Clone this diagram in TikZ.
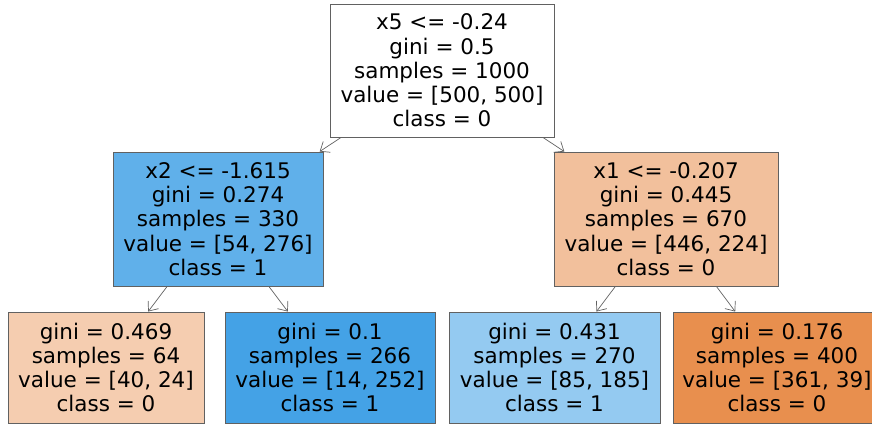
\documentclass[tikz,border=0pt]{standalone}
\usepackage{fontspec}
\setmainfont{DejaVu Sans}
\usetikzlibrary{arrows.meta}
\definecolor{edgegray}{gray}{0.38}
\definecolor{blueA}{RGB}{96,176,234}
\definecolor{orangeA}{RGB}{242,192,156}
\definecolor{orangeB}{RGB}{245,205,176}
\definecolor{blueB}{RGB}{68,162,230}
\definecolor{blueC}{RGB}{148,202,241}
\definecolor{orangeC}{RGB}{232,143,78}
\begin{document}
\begin{tikzpicture}[x=1pt, y=-1pt, >={Straight Barb[length=8pt,width=13pt]},
    box/.style={draw=edgegray, line width=0.9pt, rectangle, align=center,
      inner sep=0pt, font=\fontsize{21.5}{24.3}\selectfont},
    edge/.style={->, draw=edgegray, line width=0.7pt}]
  \useasboundingbox (0,0) rectangle (872,424);
  % root
  \node[box, fill=white, minimum width=224pt, minimum height=133pt] (root) at (442,70.5)
    {x5 <= -0.24\\gini = 0.5\\samples = 1000\\value = [500, 500]\\class = 0};
  % second level
  \node[box, fill=blueA, minimum width=210pt, minimum height=134pt] (split2) at (218,219)
    {x2 <= -1.615\\gini = 0.274\\samples = 330\\value = [54, 276]\\class = 1};
  \node[box, fill=orangeA, minimum width=224pt, minimum height=134pt] (split1) at (666,219)
    {x1 <= -0.207\\gini = 0.445\\samples = 670\\value = [446, 224]\\class = 0};
  % leaves
  \node[box, fill=orangeB, minimum width=196pt, minimum height=111pt] (leafa) at (106,367.5)
    {gini = 0.469\\samples = 64\\value = [40, 24]\\class = 0};
  \node[box, fill=blueB, minimum width=210pt, minimum height=111pt] (leafb) at (330,367.5)
    {gini = 0.1\\samples = 266\\value = [14, 252]\\class = 1};
  \node[box, fill=blueC, minimum width=211pt, minimum height=111pt] (leafc) at (554.5,367.5)
    {gini = 0.431\\samples = 270\\value = [85, 185]\\class = 1};
  \node[box, fill=orangeC, minimum width=208pt, minimum height=111pt] (leafd) at (777,367.5)
    {gini = 0.176\\samples = 400\\value = [361, 39]\\class = 0};
  \draw[edge] (root) -- (split2);
  \draw[edge] (root) -- (split1);
  \draw[edge] (split2) -- (leafa);
  \draw[edge] (split2) -- (leafb);
  \draw[edge] (split1) -- (leafc);
  \draw[edge] (split1) -- (leafd);
\end{tikzpicture}
\end{document}
